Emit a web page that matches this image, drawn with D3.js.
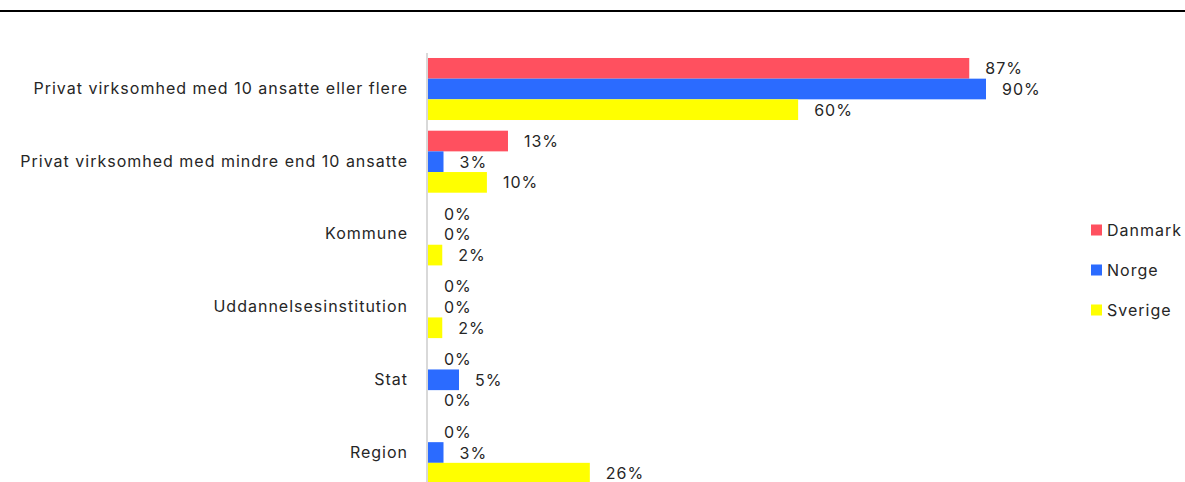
<!DOCTYPE html>
<html>
<head>
<meta charset="utf-8">
<script src="https://cdn.jsdelivr.net/npm/d3@7"></script>
<style>
  body { margin: 0; background: #fff; }
  text { font-family: Inter, "Noto Sans", sans-serif; fill: #262626; letter-spacing: 1px; }
</style>
</head>
<body>
<div class="main"></div>
<script>
// Data
const categories = [
  'Privat virksomhed med 10 ansatte eller flere',
  'Privat virksomhed med mindre end 10 ansatte',
  'Kommune',
  'Uddannelsesinstitution',
  'Stat',
  'Region'
];
const series = ['Danmark', 'Norge', 'Sverige'];
const danmark = [87.3, 12.9, 0, 0, 0, 0];
const norge = [90.0, 2.5, 0, 0, 5.0, 2.5];
const sverige = [59.7, 9.5, 2.3, 2.3, 0, 26.1];
const colors = ['#ff505f', '#2b6bff', '#ffff00'];

const values = [danmark, norge, sverige];

// Variables
const width = 1185,
      height = 482,
      x0 = 428;

const svg = d3.select('.main')
              .append('svg')
              .attr('width', width)
              .attr('height', height);

// Top rule
svg.append('line')
   .attr('x1', 0).attr('x2', width)
   .attr('y1', 11).attr('y2', 11)
   .attr('stroke', '#000')
   .attr('stroke-width', 2);

// Scales
const xScale = d3.scaleLinear()
                 .domain([0, 100])
                 .range([x0, x0 + 620]);

const yScale = d3.scaleBand()
                 .domain(categories)
                 .range([52.65, 488.85])
                 .paddingInner(0.147)
                 .paddingOuter(0.0735);

const ySub = d3.scaleBand()
               .domain(series)
               .range([0, yScale.bandwidth()]);

// Axis line
svg.append('line')
   .attr('x1', x0 - 1).attr('x2', x0 - 1)
   .attr('y1', 53).attr('y2', height)
   .attr('stroke', '#d9d9d9')
   .attr('stroke-width', 2);

// Category labels
svg.append('g')
   .selectAll('text')
   .data(categories)
   .enter()
   .append('text')
   .attr('x', 408)
   .attr('y', d => yScale(d) + yScale.bandwidth() / 2 - 1)
   .attr('text-anchor', 'end')
   .attr('dominant-baseline', 'central')
   .style('font-size', '16px')
   .text(d => d);

// Bars + labels
series.forEach(function(s, si) {
  const rows = categories.map((c, i) => ({cat: c, v: values[si][i]}));
  const g = svg.append('g');

  g.selectAll('rect')
   .data(rows)
   .enter()
   .append('rect')
   .attr('x', xScale(0))
   .attr('y', d => yScale(d.cat) + ySub(s))
   .attr('width', d => xScale(d.v) - xScale(0))
   .attr('height', ySub.bandwidth())
   .attr('fill', colors[si]);

  g.selectAll('text')
   .data(rows)
   .enter()
   .append('text')
   .attr('x', d => xScale(d.v) + 16)
   .attr('y', d => yScale(d.cat) + ySub(s) + ySub.bandwidth() / 2)
   .attr('dominant-baseline', 'central')
   .style('font-size', '16px')
   .text(d => Math.round(d.v) + '%');
});

// Legend
const legend = svg.append('g')
                  .selectAll('g')
                  .data(series)
                  .enter()
                  .append('g')
                  .attr('transform', (d, i) => `translate(1091, ${230 + i * 40})`);

legend.append('rect')
      .attr('y', -5.5)
      .attr('width', 11)
      .attr('height', 11)
      .attr('fill', (d, i) => colors[i]);

legend.append('text')
      .attr('x', 16)
      .attr('dominant-baseline', 'central')
      .style('font-size', '16px')
      .text(d => d);
</script>
</body>
</html>
